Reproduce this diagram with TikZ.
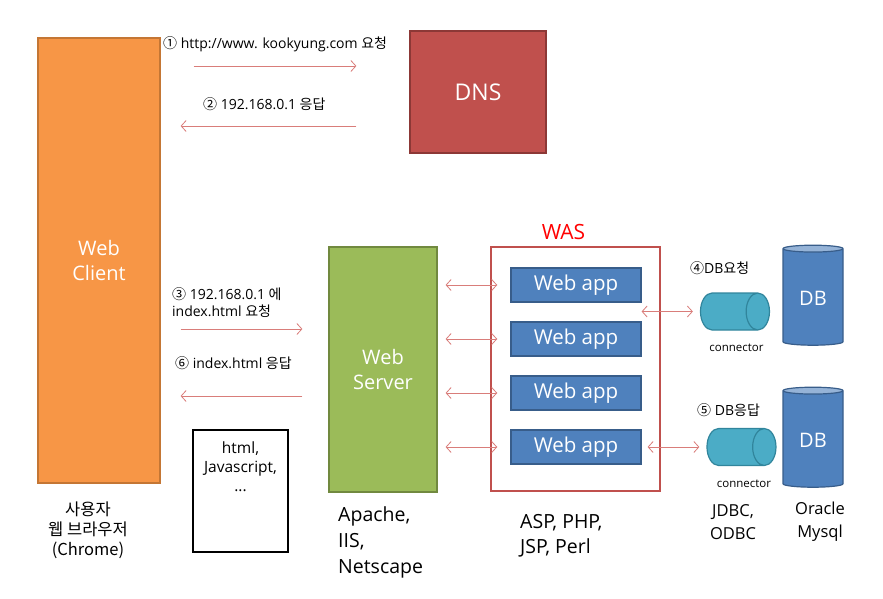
\documentclass[tikz,border=0pt]{standalone}
\usepackage{fontspec}
\setmainfont{Open Sans}
\newfontfamily\kr{Noto Sans CJK KR}
\usetikzlibrary{shapes.geometric,positioning,arrows.meta}
\definecolor{clientfill}{RGB}{247,150,70}
\definecolor{clientline}{RGB}{196,118,52}
\definecolor{dnsfill}{RGB}{192,80,77}
\definecolor{dnsline}{RGB}{140,56,54}
\definecolor{srvfill}{RGB}{155,187,89}
\definecolor{srvline}{RGB}{113,137,63}
\definecolor{appfill}{RGB}{79,129,189}
\definecolor{appline}{RGB}{56,93,138}
\definecolor{dbtop}{RGB}{149,179,215}
\definecolor{connfill}{RGB}{75,172,198}
\definecolor{connline}{RGB}{49,133,156}
\definecolor{arrowred}{RGB}{217,125,122}
\begin{document}
\begin{tikzpicture}[x=1pt,y=-1pt,
    bigbox/.style={line width=1.2pt,text=white,align=center,font=\fontsize{20}{25}\selectfont},
    appbox/.style={fill=appfill,draw=appline,line width=1.2pt,text=white,minimum width=130pt,minimum height=34pt,font=\fontsize{20.5}{22}\selectfont},
    dbcyl/.style={cylinder,shape border rotate=90,aspect=0.2,draw=appline,line width=1.2pt,cylinder uses custom fill,cylinder body fill=appfill,cylinder end fill=dbtop,minimum width=60pt,minimum height=100pt,text=white,font=\fontsize{20}{22}\selectfont},
    conncyl/.style={cylinder,aspect=3.5,draw=connline,line width=1.2pt,fill=connfill,minimum height=69pt,minimum width=37pt},
    msg/.style={font=\fontsize{14}{17}\selectfont,align=left,inner sep=0pt},
    note/.style={align=center,inner sep=0pt},
    arr/.style={draw=arrowred,line width=0.8pt,-{Straight Barb[length=5pt,width=11pt]}},
    biarr/.style={draw=arrowred,line width=0.8pt,{Straight Barb[length=5pt,width=11pt]}-{Straight Barb[length=5pt,width=11pt]}}]
  \useasboundingbox (0,0) rectangle (883,599);

  % boxes
  \node[bigbox,fill=clientfill,draw=clientline,minimum width=122pt,minimum height=445pt] (client) at (99,260.5) {Web\\Client};
  \node[bigbox,fill=dnsfill,draw=dnsline,minimum width=136pt,minimum height=122pt,font=\fontsize{23}{24}\selectfont] (dns) at (478,92) {DNS};
  \node[bigbox,fill=srvfill,draw=srvline,minimum width=108pt,minimum height=245pt] (server) at (383,369.5) {Web\\Server};
  \node[draw=dnsfill,line width=1.5pt,fill=white,minimum width=169pt,minimum height=244pt] (was) at (575.5,369) {};
  \node[text=red,font=\fontsize{21}{22}\selectfont,above=3pt of was,xshift=-12pt] (waslabel) {WAS};
  \node[draw,line width=1.5pt,minimum width=95pt,minimum height=122pt] (htmlbox) at (240.5,491) {};
  \node[note,font=\fontsize{15.5}{19}\selectfont,below=12pt of htmlbox.north] (htmltext) {html,\\Javascript,\\...};

  % web apps
  \node[appbox] (app1) at (576,285) {Web app};
  \node[appbox] (app2) at (576,339) {Web app};
  \node[appbox] (app3) at (576,393) {Web app};
  \node[appbox] (app4) at (576,447) {Web app};

  % connectors and DBs
  \node[conncyl] (conn1) at (725.5,311.5) {};
  \node[conncyl] (conn2) at (732,447) {};
  \node[font=\fontsize{11.5}{12}\selectfont,below=10pt of conn1,xshift=11pt] (conn1label) {connector};
  \node[font=\fontsize{11.5}{12}\selectfont,below=10pt of conn2,xshift=12pt] (conn2label) {connector};
  \node[dbcyl] (db1) at (813,298) {DB};
  \node[dbcyl] (db2) at (813,440) {DB};

  % messages
  \node[msg,anchor=west] (m1) at (163,44) {{\kr ①} http://www. kookyung.com {\kr 요청}};
  \node[msg,anchor=west] (m2) at (203,104) {{\kr ②} 192.168.0.1 {\kr 응답}};
  \node[msg,anchor=north west] (m3) at (172,287) {{\kr ③} 192.168.0.1 {\kr 에}\\index.html {\kr 요청}};
  \node[msg,anchor=west] (m6) at (175,363) {{\kr ⑥} index.html {\kr 응답}};
  \node[msg,anchor=west] (m4) at (690,268) {{\kr ④}DB{\kr 요청}};
  \node[msg,anchor=west] (m5) at (697,410) {{\kr ⑤} DB{\kr 응답}};

  \draw[arr,shorten <=33pt,shorten >=53pt] (client.east |- 0,66) -- (dns.west |- 0,66);
  \draw[arr,shorten <=53pt,shorten >=20pt] (dns.west |- 0,126) -- (client.east |- 0,126);
  \draw[arr,shorten <=20pt,shorten >=26pt] (client.east |- 0,329) -- (server.west |- 0,329);
  \draw[arr,shorten <=26pt,shorten >=20pt] (server.west |- 0,396) -- (client.east |- 0,396);

  \foreach \i in {1,...,4}
    \draw[biarr,shorten <=8pt,shorten >=-7pt] (server.east |- app\i) -- (was.west |- app\i);
  \draw[biarr,shorten >=7pt] (app1.east |- conn1) -- (conn1.west);
  \draw[biarr,shorten <=6pt,shorten >=7pt] (app4.east) -- (conn2.west);

  % bottom notes
  \node[note,font=\kr\fontsize{16.5}{20}\selectfont] (clientnote) at (88,530) {사용자\\웹 브라우저\\(Chrome)};
  \node[note,align=left,anchor=west,font=\fontsize{19.5}{26}\selectfont] (servernote) at (338,542) {Apache,\\IIS,\\Netscape};
  \node[note,align=left,anchor=west,font=\fontsize{19.5}{25}\selectfont] (wasnote) at (520,535.5) {ASP, PHP,\\JSP, Perl};
  \node[note,font=\fontsize{16.5}{23}\selectfont] (connnote) at (733,522) {JDBC,\\ODBC};
  \node[note,font=\fontsize{16.5}{23}\selectfont] (dbnote) at (820,522) {Oracle\\Mysql};
\end{tikzpicture}
\end{document}
